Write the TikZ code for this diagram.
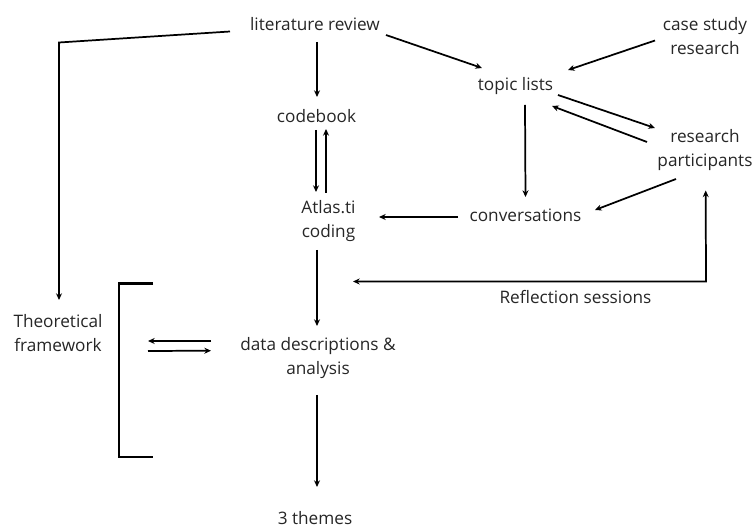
\documentclass[tikz,border=0pt]{standalone}
\usepackage{fontspec}
\setmainfont{Open Sans}
\usetikzlibrary{arrows.meta}
\begin{document}
\begin{tikzpicture}[x=0.75pt,y=-0.75pt,
  lbl/.style={anchor=base,inner sep=0pt,align=center,text=black!85,font=\fontsize{12.9}{18}\selectfont},
  arr/.style={line width=1.3pt,-{Stealth[length=5pt,width=4.5pt]}},
  brk/.style={line width=2pt}]
\useasboundingbox (0,0) rectangle (754,527);
% nodes (anchor base = baseline of the last line)
\node[lbl] (lit) at (315,31) {literature review};
\node[lbl] (code) at (316.5,122.5) {codebook};
\node[lbl] (atlas) at (328.5,238) {Atlas.ti\\coding};
\node[lbl] (data) at (318,375) {data descriptions \&\\analysis};
\node[lbl] (themes) at (315,524) {3 themes};
\node[lbl] (theo) at (58,352) {Theoretical\\framework};
\node[lbl] (case) at (705,55) {case study\\research};
\node[lbl] (topic) at (515.5,90.5) {topic lists};
\node[lbl] (part) at (705,167) {research\\participants};
\node[lbl] (conv) at (525.5,221.5) {conversations};
\node[lbl] (refl) at (575.5,304) {Reflection sessions};
% connectors
\draw[arr] ([shift={(-85,0.5)}]lit.base) -- ([shift={(1,-309.5)}]theo.base) -- ([shift={(1,-52)}]theo.base);
\draw[arr] ([shift={(2,11)}]lit.base) -- ([shift={(0.5,-25.5)}]code.base);
\draw[arr] ([shift={(-0.5,7.5)}]code.base) -- ([shift={(-12.5,-46)}]atlas.base);
\draw[arr] ([shift={(-2.5,-45)}]atlas.base) -- ([shift={(9.5,6.5)}]code.base);
\draw[arr] ([shift={(-11.5,12)}]atlas.base) -- ([shift={(-1,-49)}]data.base);
\draw[arr] ([shift={(-1,20)}]data.base) -- ([shift={(2,-37)}]themes.base);
\draw[arr] ([shift={(-107,-34)}]data.base) -- ([shift={(90,-11)}]theo.base);
\draw[arr] ([shift={(90,-1)}]theo.base) -- ([shift={(-107,-24.3)}]data.base);
\draw[arr] ([shift={(71,4)}]lit.base) -- ([shift={(-33.5,-22.5)}]topic.base);
\draw[arr] ([shift={(-50,-14.5)}]case.base) -- ([shift={(52.5,-20.5)}]topic.base);
\draw[arr] ([shift={(42.5,4.5)}]topic.base) -- ([shift={(-50,-39)}]part.base);
\draw[arr] ([shift={(-58,-25)}]part.base) -- ([shift={(36.5,15.5)}]topic.base);
\draw[arr] ([shift={(9.5,14.5)}]topic.base) -- ([shift={(0,-24.5)}]conv.base);
\draw[arr] ([shift={(-29,12)}]part.base) -- ([shift={(69.5,-11.5)}]conv.base);
\draw[arr] ([shift={(-67.5,-4.5)}]conv.base) -- ([shift={(50.5,-21)}]atlas.base);
\draw[arr,{Stealth[length=5pt,width=4.5pt]}-{Stealth[length=5pt,width=4.5pt]}] ([shift={(24.5,43.5)}]atlas.base) -- ([shift={(130.5,-22.5)}]refl.base) -- ([shift={(0.7,23.5)}]part.base);
% bracket
\draw[brk] (153,283.5) -- (119,283.5) -- (119,457) -- (153,457);
\end{tikzpicture}
\end{document}
